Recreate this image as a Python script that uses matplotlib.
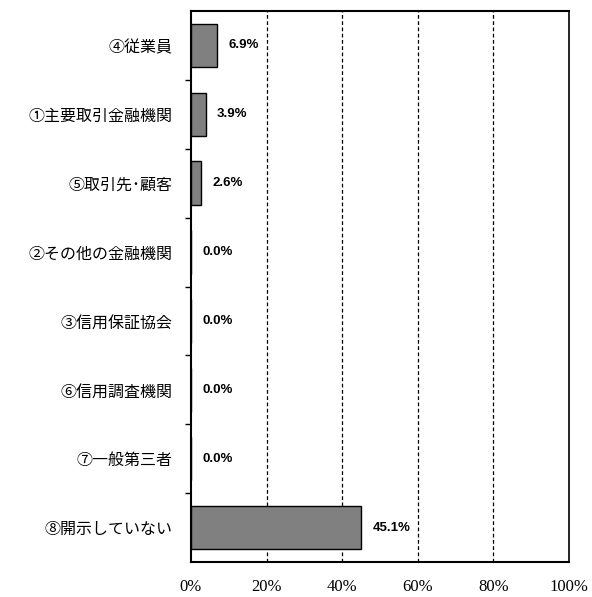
import numpy as np
import matplotlib.pyplot as plt
from matplotlib.ticker import FixedLocator

plt.rcParams['font.family'] = ['Noto Sans CJK JP', 'DejaVu Sans']

# データ
categories = ['④従業員', '①主要取引金融機関', '⑤取引先･顧客', '②その他の金融機関',
              '③信用保証協会', '⑥信用調査機関', '⑦一般第三者', '⑧開示していない']
values = [6.9, 3.9, 2.6, 0.0, 0.0, 0.0, 0.0, 45.1]
xticks = [0, 20, 40, 60, 80, 100]

fig = plt.figure(figsize=(5.92, 5.97), dpi=100)
ax = fig.add_axes([0.3226, 0.0586, 0.6385, 0.923])

y = np.arange(len(categories))
ax.barh(y, values, height=0.63, color='#808080', edgecolor='black', linewidth=1.0, zorder=3)

# 数値ラベル
for yi, v in zip(y, values):
    ax.text(v + 3.0, yi, f'{v:.1f}%', va='center', ha='left', fontsize=9.5,
            fontweight='bold', family=['Liberation Sans Narrow', 'Liberation Sans'], zorder=4)

ax.set_xlim(0, 100)
ax.set_ylim(len(categories) - 0.5, -0.5)

ax.set_yticks(y)
ax.set_yticklabels(categories, fontsize=11.5)
ax.tick_params(axis='y', which='major', length=0, pad=13)
ax.yaxis.set_minor_locator(FixedLocator(np.arange(0.5, len(categories) - 0.5, 1)))
ax.tick_params(axis='y', which='minor', length=4, direction='out', width=1)

ax.set_xticks(xticks)
ax.set_xticklabels([f'{t}%' for t in xticks], fontsize=12, family=['Liberation Serif'])
ax.tick_params(axis='x', length=0, pad=12)

# 破線グリッド
for t in xticks[1:-1]:
    ax.axvline(t, color='black', linestyle=(0, (3, 2)), linewidth=0.9, zorder=1)

for s in ['left', 'bottom', 'top']:
    ax.spines[s].set_linewidth(1.5)
ax.spines['right'].set_linewidth(1.2)
ax.spines['right'].set_linestyle((0, (3, 1)))

fig.savefig('out.png', dpi=100)
